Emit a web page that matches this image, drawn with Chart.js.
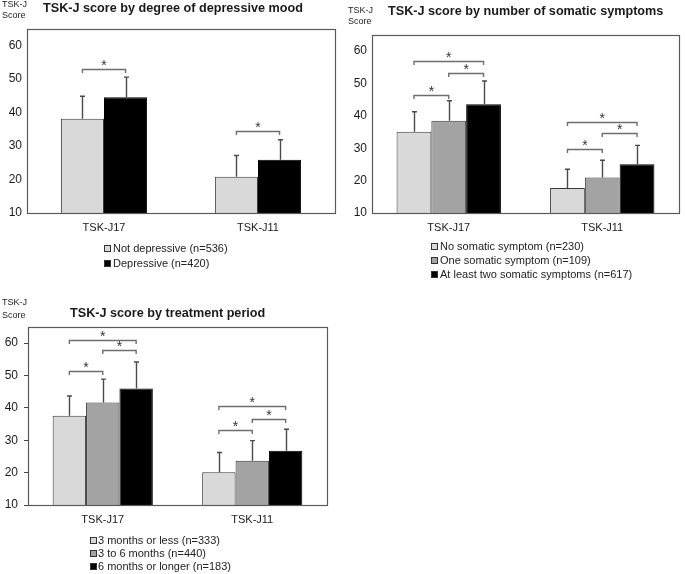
<!DOCTYPE html>
<html><head><meta charset="utf-8">
<script src="https://cdn.jsdelivr.net/npm/chart.js@4.4.0/dist/chart.umd.min.js"></script>
<style>
html,body{margin:0;padding:0;background:#fff}
body{position:relative;width:685px;height:574px;overflow:hidden;font-family:"Liberation Sans",Arial,sans-serif;color:#1a1a1a}
canvas{position:absolute}
.t{position:absolute;white-space:nowrap}
.ylab{font-size:9px;line-height:11px;color:#222}
.title{font-weight:bold;font-size:12.65px;line-height:15px;color:#1a1a1a}
.leg{font-size:11px;line-height:13px;color:#222;display:flex;align-items:center}
.sw{display:inline-block;width:5px;height:5px;border:1px solid #333;flex:none}
</style></head>
<body>
<canvas id="c1" width="340" height="290" style="left:0;top:0"></canvas>
<canvas id="c2" width="345" height="290" style="left:340px;top:0"></canvas>
<canvas id="c3" width="340" height="284" style="left:0;top:290px"></canvas>

<div class="t ylab" style="left:2px;top:-1px">TSK-J</div>
<div class="t ylab" style="left:2px;top:10px">Score</div>
<div class="t title" style="left:43px;top:1px">TSK-J score by degree of depressive mood</div>

<div class="t ylab" style="left:348px;top:5px">TSK-J</div>
<div class="t ylab" style="left:348px;top:16px">Score</div>
<div class="t title" style="left:388px;top:4px">TSK-J score by number of somatic symptoms</div>

<div class="t ylab" style="left:2px;top:297px">TSK-J</div>
<div class="t ylab" style="left:2px;top:310px">Score</div>
<div class="t title" style="left:70px;top:306px">TSK-J score by treatment period</div>

<div id="leg1"></div><div id="leg2"></div><div id="leg3"></div>

<script>
// ---------- data ----------
const categories = ['TSK-J17', 'TSK-J11'];
const yTicks = [10, 20, 30, 40, 50, 60];

// Panel 1: degree of depressive mood
const moodLabels = ['Not depressive (n=536)', 'Depressive (n=420)'];
const moodNotMean = [38.2, 20.8];
const moodNotSD   = [6.7, 6.4];
const moodDepMean = [44.6, 25.9];
const moodDepSD   = [6.0, 6.0];
// significance brackets: [category, seriesA, seriesB, level]
const moodSig = [[0, 0, 1, 53.0], [1, 0, 1, 34.5]];

// Panel 2: number of somatic symptoms
const somaLabels = ['No somatic symptom (n=230)', 'One somatic symptom (n=109)', 'At least two somatic symptoms (n=617)'];
const somaNoMean  = [35.1, 17.7];
const somaNoSD    = [6.2, 5.8];
const somaOneMean = [38.5, 21.0];
const somaOneSD   = [6.2, 5.3];
const somaTwoMean = [43.6, 25.1];
const somaTwoSD   = [7.2, 5.8];
const somaSig = [[0, 0, 1, 46.4], [0, 1, 2, 53.4], [0, 0, 2, 56.9],
                 [1, 0, 1, 29.8], [1, 1, 2, 34.6], [1, 0, 2, 38.2]];

// Panel 3: treatment period
const periodLabels = ['3 months or less (n=333)', '3 to 6 months (n=440)', '6 months or longer (n=183)'];
const periodShortMean = [37.6, 20.1];
const periodShortSD   = [6.1, 6.1];
const periodMidMean   = [41.7, 23.7];
const periodMidSD     = [7.2, 6.2];
const periodLongMean  = [46.0, 26.8];
const periodLongSD    = [8.2, 6.6];
const periodSig = [[0, 0, 1, 51.5], [0, 1, 2, 57.8], [0, 0, 2, 61.1],
                   [1, 0, 1, 33.3], [1, 1, 2, 36.6], [1, 0, 2, 40.6]];

// ---------- styling ----------
const LIGHT = '#d9d9d9', MID = '#a3a3a3', DARK = '#000000';
const FONT = '"Liberation Sans", Arial, sans-serif';
const XH = 26;

const annot = {
  id: 'annot',
  afterDatasetsDraw(chart, args, opts) {
    const ctx = chart.ctx, ys = chart.scales.y, a = chart.chartArea;
    ctx.save();
    // error bars
    chart.data.datasets.forEach((ds, i) => {
      chart.getDatasetMeta(i).data.forEach((el, j) => {
        const top = ys.getPixelForValue(ds.data[j] + ds.sd[j]);
        const x = Math.round(el.x) + 0.5;
        ctx.strokeStyle = '#4a4a4a'; ctx.lineWidth = 1.4;
        ctx.beginPath();
        ctx.moveTo(x, el.y); ctx.lineTo(x, top);
        ctx.moveTo(x - 2.5, top); ctx.lineTo(x + 2.5, top);
        ctx.stroke();
      });
    });
    // significance brackets
    ctx.font = '14px ' + FONT; ctx.textAlign = 'center'; ctx.textBaseline = 'alphabetic';
    ctx.fillStyle = '#333';
    (opts.sig || []).forEach(([c, s1, s2, lvl]) => {
      const x1 = chart.getDatasetMeta(s1).data[c].x, x2 = chart.getDatasetMeta(s2).data[c].x;
      const y = Math.round(ys.getPixelForValue(lvl)) + 0.5;
      ctx.strokeStyle = '#6e6e6e'; ctx.lineWidth = 1.4;
      ctx.beginPath();
      ctx.moveTo(x1, y + 3.5); ctx.lineTo(x1, y); ctx.lineTo(x2, y); ctx.lineTo(x2, y + 3.5);
      ctx.stroke();
      ctx.fillText('*', (x1 + x2) / 2, y + 0.5);
    });
    // frame
    ctx.strokeStyle = '#5a5a5a'; ctx.lineWidth = 1.2;
    ctx.strokeRect(Math.round(a.left) + 0.5, Math.round(a.top) + 0.5,
                   Math.round(a.right - a.left), Math.round(a.bottom - a.top));
    ctx.restore();
  }
};

function makeChart(id, W, H, box, series, sig, catPct, tickMarks) {
  return new Chart(document.getElementById(id), {
    type: 'bar',
    data: {
      labels: categories,
      datasets: series.map(s => ({
        label: s.label, data: s.data, sd: s.sd,
        backgroundColor: s.color, borderColor: s.color === DARK ? '#000' : '#3a3a3a',
        borderWidth: 1, borderSkipped: false
      }))
    },
    options: {
      responsive: false, animation: false, devicePixelRatio: 1,
      layout: { padding: { left: 0, top: box.top, right: W - box.right, bottom: H - box.bottom - XH } },
      datasets: { bar: { categoryPercentage: catPct, barPercentage: 1 } },
      plugins: { legend: { display: false }, tooltip: { enabled: false }, title: { display: false }, annot: { sig } },
      scales: {
        x: {
          grid: { display: false, drawTicks: false }, border: { display: false },
          ticks: { font: { family: FONT, size: 11 }, color: '#1a1a1a', padding: 8, maxRotation: 0 },
          afterFit(s) { s.height = XH; }
        },
        y: {
          min: 10, max: 65,
          grid: tickMarks
            ? { display: true, drawOnChartArea: false, drawTicks: true, tickLength: 4, color: '#444', lineWidth: 1 }
            : { display: false, drawTicks: false },
          border: { display: false },
          afterBuildTicks(s) { s.ticks = yTicks.map(v => ({ value: v })); },
          ticks: { font: { family: FONT, size: 12 }, color: '#1a1a1a', padding: tickMarks ? 6 : 5 },
          afterFit(s) { s.width = box.left; }
        }
      }
    },
    plugins: [annot]
  });
}

makeChart('c1', 340, 290, { left: 27, top: 29, right: 335, bottom: 213 }, [
  { label: moodLabels[0], data: moodNotMean, sd: moodNotSD, color: LIGHT },
  { label: moodLabels[1], data: moodDepMean, sd: moodDepSD, color: DARK }
], moodSig, 0.56, false);

makeChart('c2', 345, 290, { left: 32, top: 35, right: 339, bottom: 213 }, [
  { label: somaLabels[0], data: somaNoMean, sd: somaNoSD, color: LIGHT },
  { label: somaLabels[1], data: somaOneMean, sd: somaOneSD, color: MID },
  { label: somaLabels[2], data: somaTwoMean, sd: somaTwoSD, color: DARK }
], somaSig, 0.68, false);

makeChart('c3', 340, 284, { left: 28, top: 37, right: 327, bottom: 215 }, [
  { label: periodLabels[0], data: periodShortMean, sd: periodShortSD, color: LIGHT },
  { label: periodLabels[1], data: periodMidMean, sd: periodMidSD, color: MID },
  { label: periodLabels[2], data: periodLongMean, sd: periodLongSD, color: DARK }
], periodSig, 0.67, true);

// ---------- legends (HTML text) ----------
function legend(hostId, labels, colors, x, tops, gap) {
  const host = document.getElementById(hostId);
  labels.forEach((lab, i) => {
    const row = document.createElement('div');
    row.className = 't leg';
    row.style.left = x + 'px'; row.style.top = tops[i] + 'px';
    const sw = document.createElement('span');
    sw.className = 'sw'; sw.style.background = colors[i]; sw.style.marginRight = gap + 'px';
    row.appendChild(sw);
    row.appendChild(document.createTextNode(lab));
    host.appendChild(row);
  });
}
legend('leg1', moodLabels, [LIGHT, DARK], 104, [242, 257], 2);
legend('leg2', somaLabels, [LIGHT, MID, DARK], 431, [239.5, 253.5, 267.5], 2);
legend('leg3', periodLabels, [LIGHT, MID, DARK], 90, [534, 546.5, 560], 1);
</script>
</body></html>
